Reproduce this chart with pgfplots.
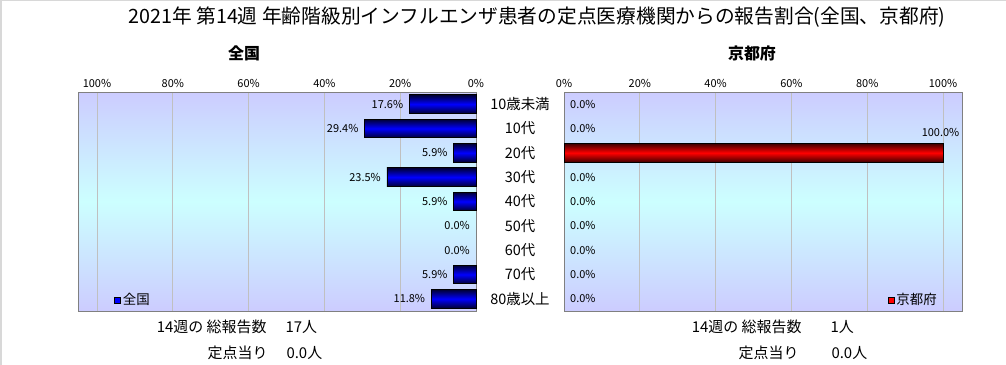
\documentclass[border=0pt]{standalone}
\usepackage{fontspec}
\setmainfont{Noto Sans CJK JP}
\usepackage{pgfplots}
\pgfplotsset{compat=1.18}
\definecolor{lav}{RGB}{204,204,255}
\definecolor{cyanbg}{RGB}{204,255,255}
\definecolor{axgray}{RGB}{128,128,128}
\definecolor{gridgray}{RGB}{192,192,192}
\definecolor{framegray}{RGB}{216,216,216}
\definecolor{navyd}{RGB}{0,0,50}
\definecolor{redd}{RGB}{60,0,0}

\pgfplotsset{
  panel/.style={
    scale only axis, height=219bp,
    ymin=-0.5, ymax=8.5, y dir=reverse,
    xmin=0,
    xtick={0,20,...,100},
    xticklabel pos=right,
    xticklabel={\pgfmathprintnumber{\tick}\%},
    /pgf/number format/assume math mode=true,
    xticklabel style={font=\fontsize{11}{12}\selectfont, yshift=1bp},
    major tick length=0pt,
    xmajorgrids, grid style={gridgray, line width=0.8bp},
    axis line style={axgray, line width=1bp},
    axis background/.style={shading=axis, top color=lav, bottom color=lav, middle color=cyanbg},
    clip=false,
  },
  bluebar/.style={xbar, bar width=0.77, draw=black, line width=0.8bp, forget plot,
    shading=axis, top color=navyd, bottom color=navyd, middle color=blue},
  redbar/.style={xbar, bar width=0.78, draw=black, line width=0.8bp, forget plot,
    shading=axis, top color=redd, bottom color=redd, middle color=red},
  vlabel/.style={draw=none, mark=none, forget plot, point meta=x,
    nodes near coords={\pgfmathprintnumber[fixed,fixed zerofill,precision=1]{\pgfplotspointmeta}\%},
    every node near coord/.append style={font=\fontsize{11}{12}\selectfont, text=black, inner sep=1bp}},
}

\begin{document}
\begin{tikzpicture}
\useasboundingbox (0bp,0bp) rectangle (1006bp,365bp);
\draw[framegray, line width=1.5bp] (0.75bp,0bp) -- (0.75bp,364.25bp) -- (1006bp,364.25bp);

\node[font=\fontsize{19.8}{22}\selectfont] at (537bp,348bp) {2021年 第14週 年齢階級別インフルエンザ患者の定点医療機関からの報告割合(全国、京都府)};
\node[font=\fontsize{16}{18}\selectfont\bfseries] at (244bp,312bp) {全国};
\node[font=\fontsize{16}{18}\selectfont\bfseries] at (752bp,312bp) {京都府};

% left panel
\begin{axis}[panel, at={(79bp,54bp)}, anchor=south west, width=397bp,
  x dir=reverse, xmax=104.75,
  ytick={0,...,8},
  yticklabels={10歳未満,10代,20代,30代,40代,50代,60代,70代,80歳以上},
  yticklabel pos=right,
  yticklabel style={anchor=center, xshift=44bp, font=\fontsize{14.5}{16}\selectfont},
  legend style={draw=none, fill=none, at={(0.088,0.05)}, anchor=west,
    font=\fontsize{13.5}{15}\selectfont, inner sep=0pt},
  legend image code/.code={\draw[black, fill=blue, line width=0.7bp] (0bp,-3bp) rectangle (6bp,3bp);},
]
\addplot[bluebar] coordinates {(17.6,0)};
\addplot[bluebar] coordinates {(29.4,1)};
\addplot[bluebar] coordinates {(5.9,2)};
\addplot[bluebar] coordinates {(23.5,3)};
\addplot[bluebar] coordinates {(5.9,4)};
\addplot[bluebar] coordinates {(5.9,7)};
\addplot[bluebar] coordinates {(11.8,8)};
\addlegendimage{black}
\addlegendentry{全国}
\addplot[vlabel, every node near coord/.append style={anchor=east, xshift=-5bp}]
  coordinates {(17.6,0) (29.4,1) (5.9,2) (23.5,3) (5.9,4) (0.0,5) (0.0,6) (5.9,7) (11.8,8)};
\end{axis}

% right panel
\begin{axis}[panel, at={(564bp,54bp)}, anchor=south west, width=398bp,
  xmax=105, ytick=\empty,
  legend style={draw=none, fill=none, at={(0.942,0.05)}, anchor=east,
    font=\fontsize{13.5}{15}\selectfont, inner sep=0pt},
  legend image code/.code={\draw[black, fill=red, line width=0.7bp] (0bp,-3bp) rectangle (6bp,3bp);},
]
\addplot[redbar] coordinates {(100,2)};
\addlegendimage{black}
\addlegendentry{京都府}
\addplot[vlabel, every node near coord/.append style={anchor=west, xshift=5bp}]
  coordinates {(0,0) (0,1) (0,3) (0,4) (0,5) (0,6) (0,7) (0,8)};
\addplot[vlabel, every node near coord/.append style={anchor=center, xshift=-2.5bp, yshift=20.5bp}]
  coordinates {(100,2)};
\end{axis}

% bottom texts
\node[anchor=east, font=\fontsize{15}{17}\selectfont] at (270bp,38bp) {14週の 総報告数};
\node[anchor=west, font=\fontsize{15}{17}\selectfont] at (282bp,38bp) {17人};
\node[anchor=east, font=\fontsize{15}{17}\selectfont] at (271bp,12bp) {定点当り};
\node[anchor=west, font=\fontsize{15}{17}\selectfont] at (283bp,12bp) {0.0人};
\node[anchor=east, font=\fontsize{15}{17}\selectfont] at (805bp,38bp) {14週の 総報告数};
\node[anchor=west, font=\fontsize{15}{17}\selectfont] at (827bp,38bp) {1人};
\node[anchor=east, font=\fontsize{15}{17}\selectfont] at (802bp,12bp) {定点当り};
\node[anchor=west, font=\fontsize{15}{17}\selectfont] at (828bp,12bp) {0.0人};
\end{tikzpicture}
\end{document}
